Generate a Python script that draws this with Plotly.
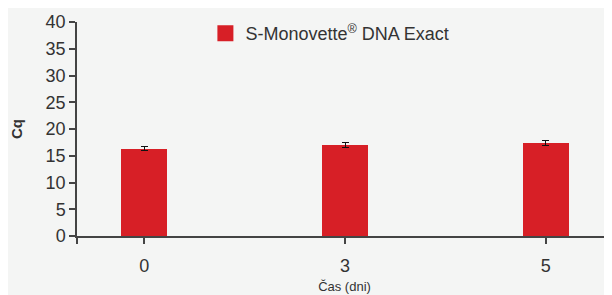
import plotly.graph_objects as go

categories = ["0", "3", "5"]
values = [16.3, 17.0, 17.4]
errors = [0.4, 0.5, 0.4]
yticks = [0, 5, 10, 15, 20, 25, 30, 35, 40]
series_name = "S-Monovette<sup>®</sup> DNA Exact"

xpos = list(range(len(categories)))
RED = "#d71f26"
TXT = "#333333"
BG = "#f4f5f4"
FONT = "Liberation Sans, Arial, sans-serif"

fig = go.Figure()
fig.add_trace(go.Bar(
    x=xpos, y=values, width=0.229, marker=dict(color=RED, line=dict(width=0)),
    error_y=dict(type="data", array=errors, color="#111111", thickness=1, width=3.5),
    showlegend=False,
))
fig.add_trace(go.Scatter(
    x=[None], y=[None], mode="markers", name=series_name,
    marker=dict(symbol="square", size=16, color=RED),
    showlegend=True,
))

# page body has an 8px default margin; figure is sized to fit inside the window
fig.update_layout(
    width=604, height=287,
    margin=dict(l=69, r=0, t=14, b=59),
    paper_bgcolor=BG, plot_bgcolor=BG,
    font=dict(family=FONT, color=TXT, size=18),
    legend=dict(x=0.24, y=1.033, xanchor="left", yanchor="top",
                bgcolor="rgba(0,0,0,0)", font=dict(size=18, color=TXT),
                itemsizing="trace"),
    xaxis=dict(
        range=[-0.335, 2.33], automargin=False,
        tickvals=[-0.333] + xpos, ticktext=[""] + categories,
        showline=True, linecolor="#444444", linewidth=1.5,
        ticks="outside", ticklen=6, tickcolor="#444444", tickwidth=1.5,
        showgrid=False, zeroline=False,
        tickfont=dict(size=18), ticklabelstandoff=7,
        title=dict(text="Čas (dni)", font=dict(size=13), standoff=7),
    ),
    yaxis=dict(
        range=[0, 40], tickvals=yticks, automargin=False,
        showline=True, linecolor="#444444", linewidth=1.5,
        ticks="outside", ticklen=6, tickcolor="#444444", tickwidth=1.5,
        showgrid=False, zeroline=False,
        tickfont=dict(size=18),
        title=dict(text="<b>Cq</b>", font=dict(size=15), standoff=19),
    ),
    bargap=0,
)

fig.write_html("out.html")
